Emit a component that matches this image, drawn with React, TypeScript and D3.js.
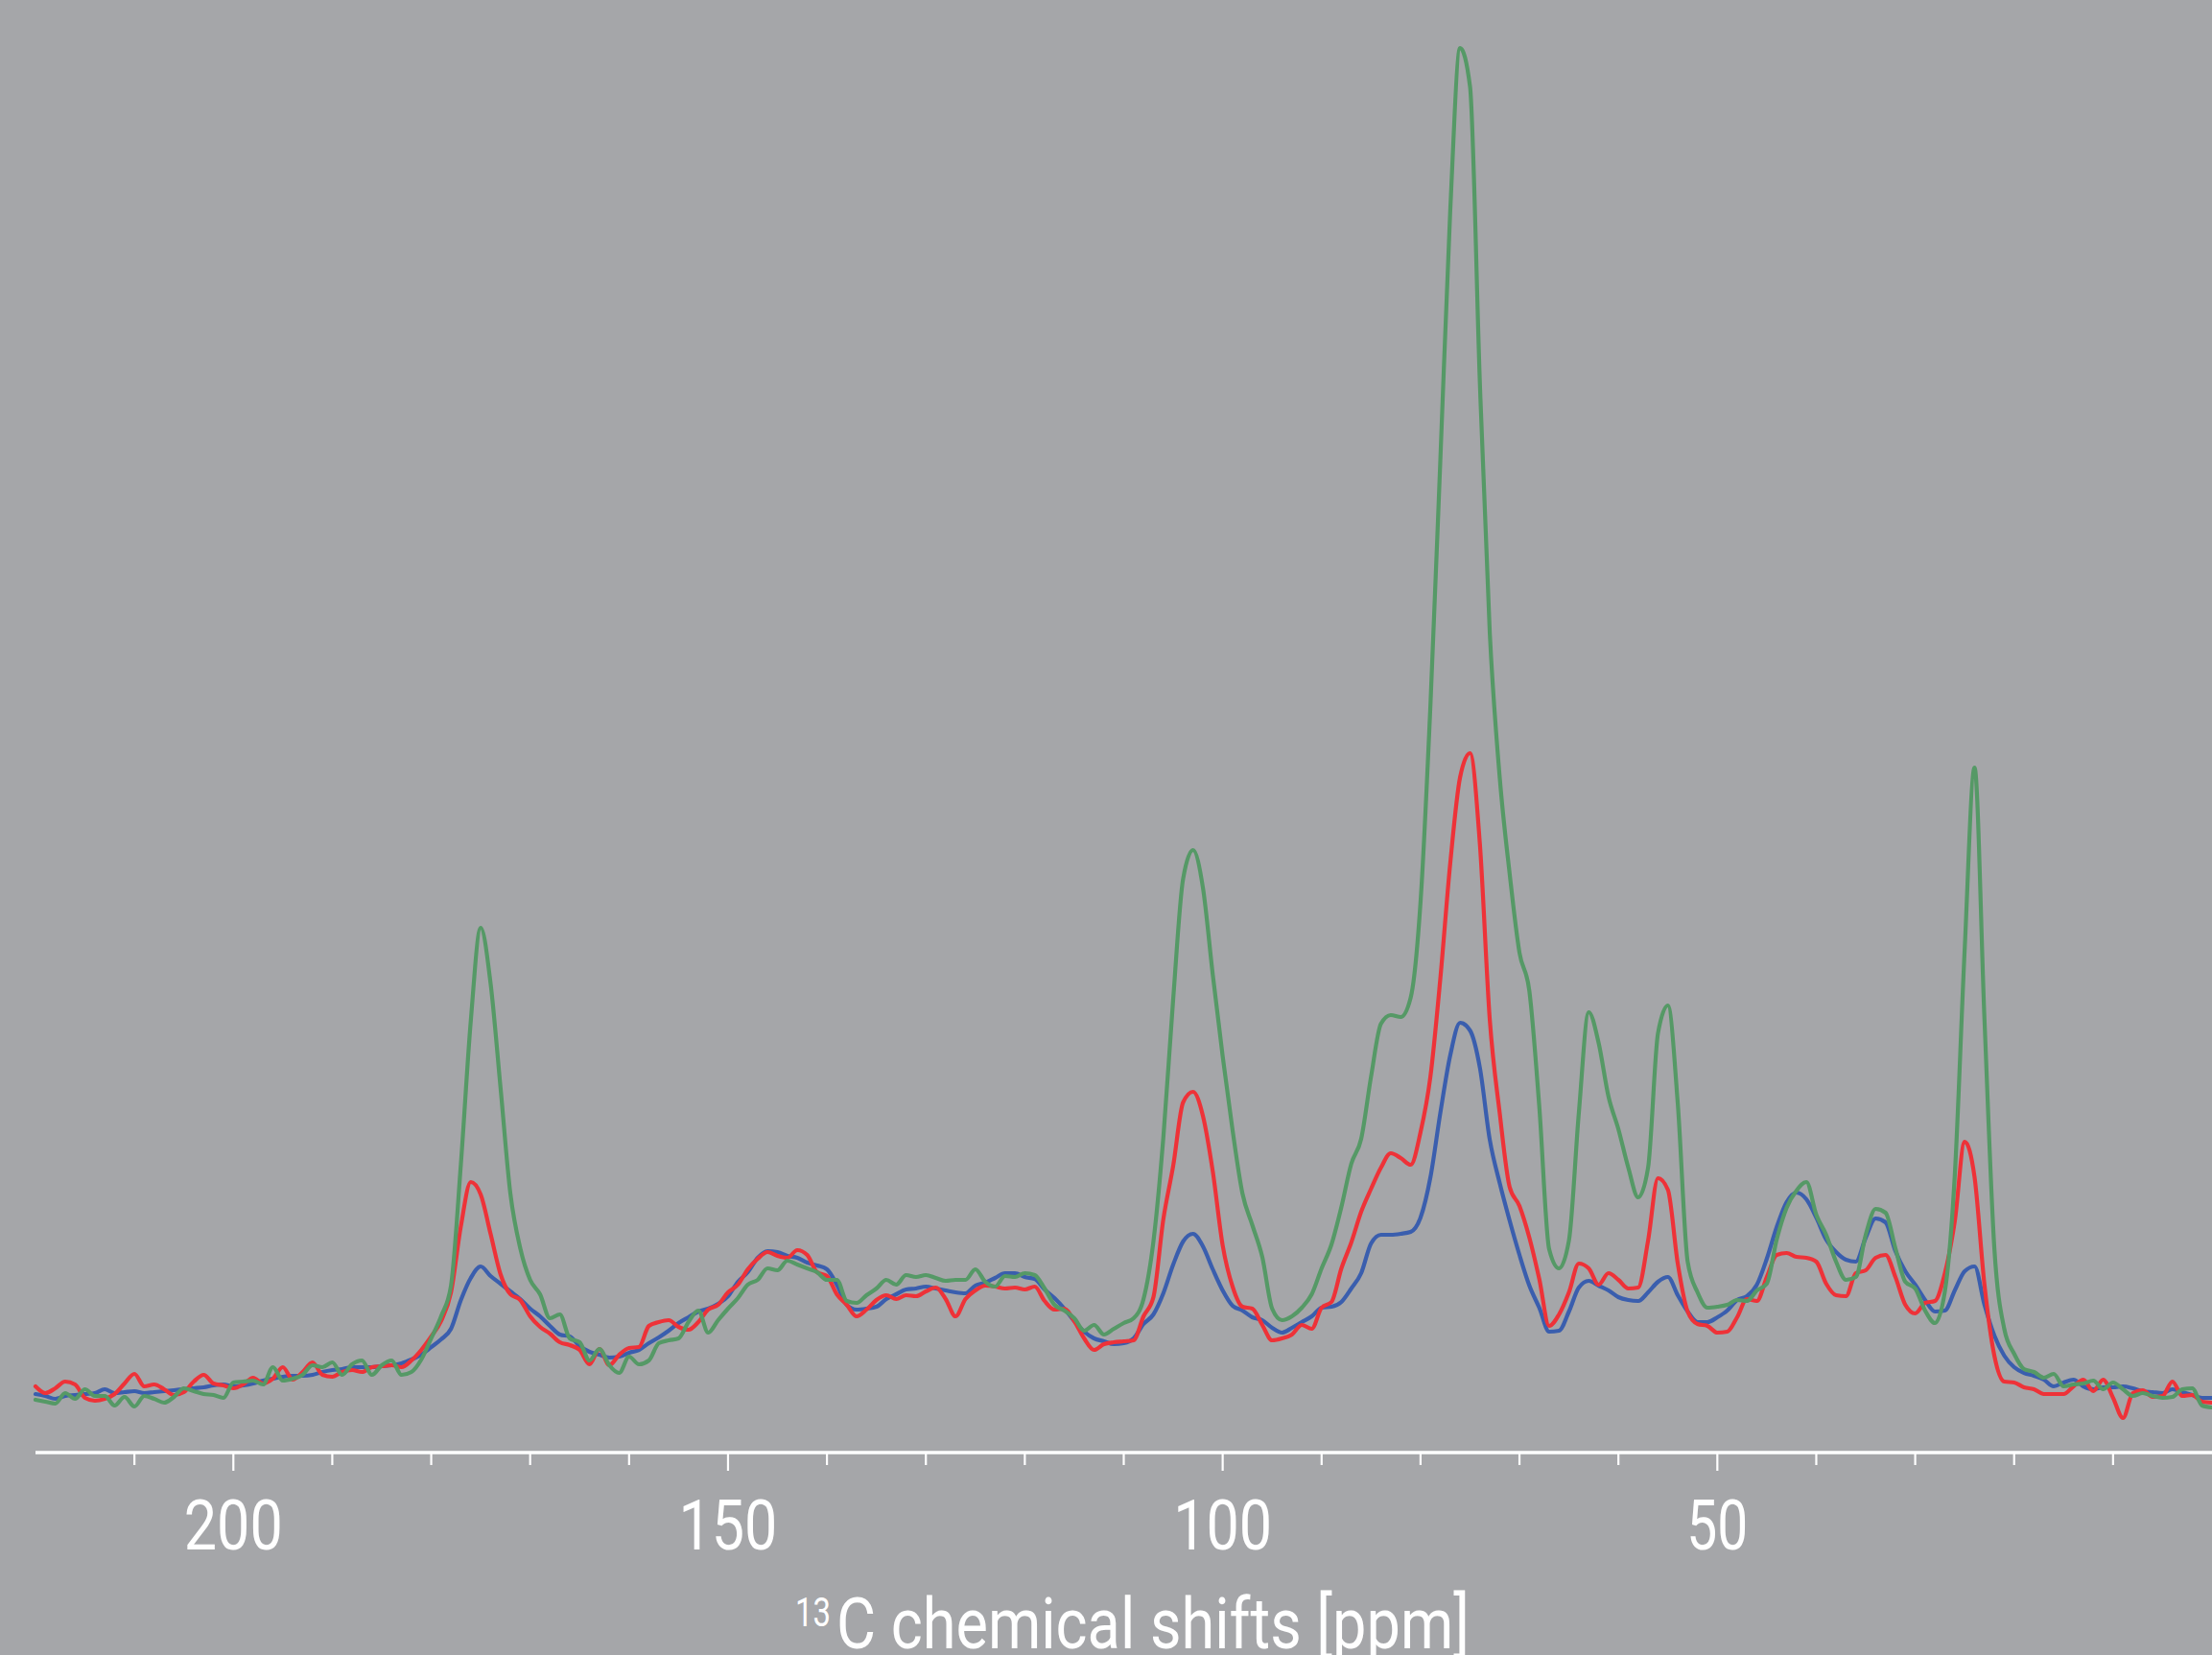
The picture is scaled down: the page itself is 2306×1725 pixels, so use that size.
import React from 'react';
import * as d3 from 'd3';

const WIDTH = 2306;
const HEIGHT = 1725;

// chemical shift grid (ppm), 220 -> 0 in 1 ppm steps
const ppmGrid: number[] = d3.range(220, -1, -1);

// intensities (arbitrary units), one per ppm from 220 down to 0
const blueSeries: number[] = [
  0.7,0.5,0.2,0.5,0.6,0.7,0.8,1.2,0.8,0.9,1.0,0.8,0.9,1.0,1.1,1.2,1.3,1.4,1.6,1.7,1.5,1.6,1.8,2.1,2.3,2.5,2.6,2.6,2.7,3.0,3.2,3.3,3.5,3.5,3.5,3.6,3.7,3.9,4.3,4.8,5.6,6.4,7.5,
  10.5,12.8,14.0,13.0,12.2,11.4,10.6,9.6,8.8,7.8,6.9,6.7,5.7,5.1,4.8,4.5,4.6,5.0,5.3,6.0,6.6,7.3,8.1,8.7,9.3,9.6,10.1,10.9,12.4,13.4,14.9,15.6,15.5,15.1,14.9,14.4,14.1,13.7,12.1,10.0,9.5,
  9.6,9.8,10.6,11.1,11.6,11.7,11.9,11.7,11.5,11.3,11.2,12.0,12.3,12.8,13.3,13.3,12.9,12.7,11.6,10.7,9.6,8.3,7.2,6.5,6.2,5.9,6.0,6.5,8.0,9.0,11.2,14.2,16.6,17.4,16.1,13.7,11.5,9.9,9.4,8.7,8.4,7.6,7.1,7.6,
  8.2,8.8,9.7,9.8,10.3,11.7,13.3,16.4,17.3,17.3,17.4,17.6,19.1,23.3,30.0,36.0,39.4,38.6,34.7,27.2,22.7,18.8,15.2,12.0,9.7,7.2,7.3,9.3,11.8,12.5,12.0,11.5,10.8,10.5,10.4,11.3,12.4,12.9,11.0,9.3,8.2,8.2,8.7,
  9.4,10.5,10.9,12.1,14.8,18.1,20.7,21.7,21.0,19.1,16.8,15.5,14.7,14.5,17.0,19.0,18.6,15.6,13.5,12.1,10.5,9.3,9.4,11.5,13.5,14.0,10.0,6.8,4.7,3.5,2.9,2.6,2.2,1.5,1.9,2.2,1.5,1.2,1.4,1.4,1.5,1.3,1.0,0.9,
  0.8,1.2,0.9,0.6,0.3,0.3,
];

const redSeries: number[] = [
  1.5,0.8,1.3,2.0,1.7,0.3,0.0,0.2,0.7,1.8,2.8,1.5,1.7,1.2,0.6,0.9,2.0,2.7,1.8,1.6,1.3,1.7,2.4,1.8,2.3,3.5,2.2,3.0,4.0,2.7,2.5,3.0,3.2,3.0,3.5,3.6,3.7,3.5,4.2,5.3,6.7,8.3,11.3,
  18.2,22.8,21.5,17.4,13.2,11.1,10.5,8.8,7.7,7.0,6.1,5.8,5.3,3.8,5.4,3.7,4.8,5.5,5.6,7.8,8.2,8.4,7.7,7.4,8.2,9.5,10.0,11.3,12.1,13.7,14.8,15.5,15.1,14.9,15.7,15.2,13.4,13.0,11.1,10.0,8.8,
  9.5,10.5,11.0,10.6,11.0,10.9,11.4,11.8,10.6,8.8,10.6,11.5,12.0,11.9,11.7,11.8,11.6,11.9,10.4,9.5,9.6,8.3,6.5,5.3,5.9,6.1,6.2,6.3,8.8,10.8,18.9,24.5,31.1,32.2,29.7,23.9,16.2,11.9,9.8,9.6,7.9,6.3,6.5,6.9,
  7.9,7.5,9.7,10.3,13.8,16.5,19.7,22.1,24.3,25.8,25.3,24.6,28.0,33.8,44.0,56.0,65.0,67.5,58.0,39.7,30.0,22.3,20.3,17.0,12.7,7.8,9.0,11.3,14.3,13.8,12.1,13.3,12.6,11.7,11.8,16.7,23.2,22.0,14.3,9.3,8.0,7.8,7.1,
  7.2,8.7,10.6,10.4,12.9,15.2,15.4,15.0,14.9,14.5,12.2,11.0,10.9,13.3,13.6,14.9,15.2,12.9,10.0,9.1,10.2,10.4,13.3,18.7,27.0,23.3,12.1,4.7,2.0,1.9,1.4,1.2,0.7,0.7,0.7,1.5,2.2,1.0,2.2,0.3,-1.8,0.8,1.1,0.4,
  0.5,2.0,0.5,0.6,-0.1,-0.2,
];

const greenSeries: number[] = [
  0.1,-0.1,-0.3,0.8,0.2,1.2,0.5,0.5,-0.5,0.4,-0.6,0.5,0.2,-0.2,0.4,1.3,1.0,0.7,0.6,0.3,1.9,2.0,2.1,1.7,3.5,2.1,2.3,2.7,3.7,3.5,4.0,2.7,3.8,4.2,2.7,3.7,4.2,2.7,3.0,4.3,6.5,8.8,12.0,
  24.7,39.6,49.3,43.5,32.7,21.6,15.9,12.6,11.1,8.6,9.0,6.5,6.1,4.2,5.4,3.7,2.9,4.6,3.8,4.2,6.0,6.3,6.5,8.2,9.4,7.1,8.4,9.6,10.7,12.1,12.6,13.8,13.6,14.6,14.2,13.8,13.4,12.6,12.6,10.4,10.2,
  11.0,11.7,12.6,12.1,13.1,12.9,13.1,12.8,12.5,12.6,12.6,13.7,12.4,11.9,13.0,12.9,13.3,13.1,11.7,10.0,9.4,8.6,7.3,7.9,6.9,7.5,8.1,8.6,10.6,16.6,27.4,41.9,54.4,57.4,53.5,44.4,35.9,28.2,21.6,18.3,15.0,9.6,8.4,8.8,
  9.7,11.1,13.8,16.3,20.2,24.7,27.3,33.8,39.3,40.2,40.0,42.0,52.0,72.5,98.0,124.0,141.0,137.0,106.0,80.0,65.0,55.0,46.7,42.7,30.7,15.8,13.8,16.7,30.0,40.5,37.3,31.7,28.3,24.3,21.2,24.3,38.3,41.2,31.0,14.5,11.3,9.7,9.8,
  10.0,10.5,10.4,11.5,12.2,16.8,20.1,21.9,22.8,19.4,17.3,14.5,12.6,12.9,17.3,20.0,19.6,15.9,12.4,11.7,9.4,8.1,11.4,23.5,47.0,66.0,39.8,15.9,7.5,4.9,3.3,3.0,2.4,2.8,1.5,1.7,1.8,2.1,1.2,1.9,1.2,0.5,0.8,0.5,
  0.3,0.4,1.2,1.3,-0.5,-0.7,
];

const majorTicks: number[] = [200, 150, 100, 50];
const minorTicks: number[] = [210, 190, 180, 170, 160, 140, 130, 120, 110, 90, 80, 70, 60, 40, 30, 20, 10];
const axisTitleSup = '13';
const axisTitleMain = 'C chemical shifts [ppm]';

const COLORS = {
  bg: '#a5a6a9',
  blue: '#3a5eae',
  red: '#ee3238',
  green: '#559966',
  axis: '#ffffff',
};

export default function App() {
  const x = d3.scaleLinear().domain([220, 0]).range([37, 2306]);
  const y = d3.scaleLinear().domain([0, 146]).range([1460, 0]);
  const axisY = 1514;

  const lineGen = d3
    .line<number>()
    .x((_, i) => x(ppmGrid[i]))
    .y((d) => y(d))
    .curve(d3.curveMonotoneX);

  const series = [
    { key: 'blue', data: blueSeries, color: COLORS.blue },
    { key: 'red', data: redSeries, color: COLORS.red },
    { key: 'green', data: greenSeries, color: COLORS.green },
  ];

  const font = 'Roboto, "Open Sans", sans-serif';

  return (
    <svg
      width={WIDTH}
      height={HEIGHT}
      style={{ position: 'absolute', left: 0, top: 0, display: 'block' }}
    >
      <rect x={0} y={0} width={WIDTH} height={HEIGHT} fill={COLORS.bg} />
      {series.map((s) => (
        <path
          key={s.key}
          d={lineGen(s.data.slice(0, ppmGrid.length)) || ''}
          fill="none"
          stroke={s.color}
          strokeWidth={4.2}
          strokeLinejoin="round"
          strokeLinecap="round"
        />
      ))}
      <line x1={x(220)} x2={WIDTH} y1={axisY} y2={axisY} stroke={COLORS.axis} strokeWidth={3.5} />
      {majorTicks.map((t) => (
        <line key={'M' + t} x1={x(t)} x2={x(t)} y1={axisY} y2={axisY + 19} stroke={COLORS.axis} strokeWidth={2.2} />
      ))}
      {minorTicks.map((t) => (
        <line key={'m' + t} x1={x(t)} x2={x(t)} y1={axisY} y2={axisY + 13} stroke={COLORS.axis} strokeWidth={2.2} />
      ))}
      {majorTicks.map((t) => {
        const label = String(t);
        const w = label.length === 3 ? 103 : 64;
        return (
          <text
            key={'L' + t}
            x={x(t) - w / 2}
            y={1615}
            fill={COLORS.axis}
            fontFamily={font}
            fontSize={73}
            textLength={w}
            lengthAdjust="spacingAndGlyphs"
          >
            {label}
          </text>
        );
      })}
      <text
        x={829}
        y={1695}
        fill={COLORS.axis}
        fontFamily={font}
        fontSize={42}
        textLength={37}
        lengthAdjust="spacingAndGlyphs"
      >
        {axisTitleSup}
      </text>
      <text
        x={872}
        y={1718}
        fill={COLORS.axis}
        fontFamily={font}
        fontSize={74}
        textLength={660}
        lengthAdjust="spacingAndGlyphs"
      >
        {axisTitleMain}
      </text>
    </svg>
  );
}
